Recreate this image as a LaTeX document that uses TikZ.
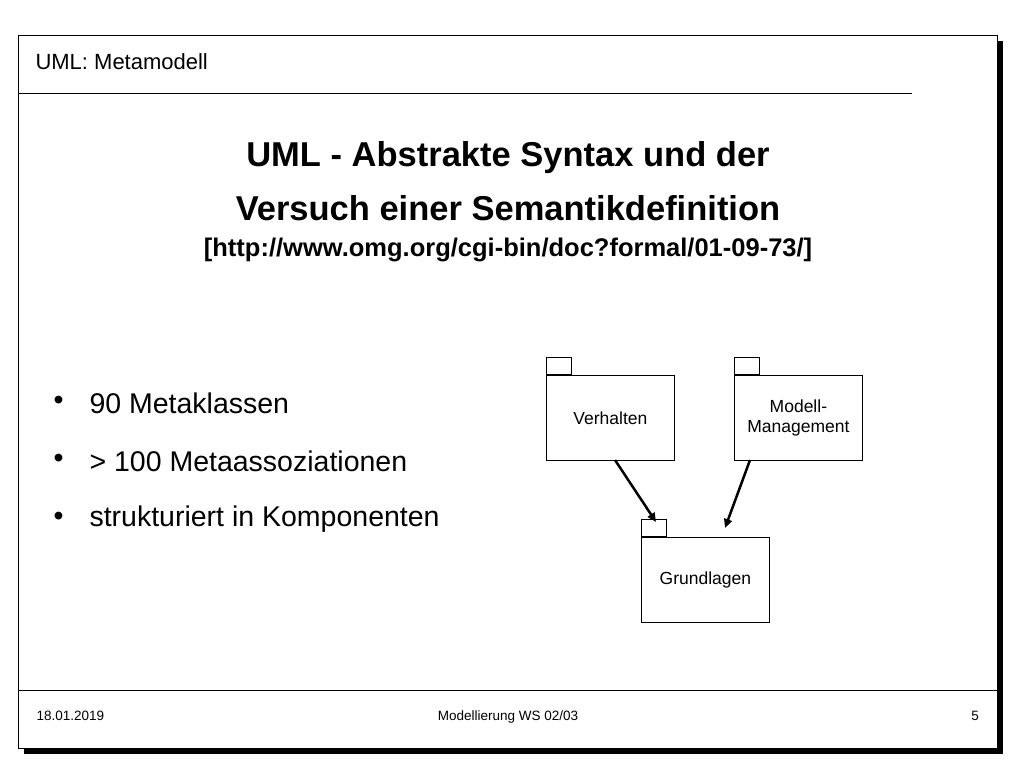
\documentclass[tikz,border=0pt]{standalone}
\usepackage{fontspec}
\setmainfont{Liberation Sans}
\usetikzlibrary{arrows.meta}
\tikzset{
    pkg/.style={draw,thick,fill=white,minimum width=128pt,minimum height=85pt,inner sep=0pt,align=center,font=\fontsize{17.5}{20}\selectfont},
    tab/.style={draw,thick,fill=white,minimum width=25pt,minimum height=17pt,inner sep=0pt},
    dep/.style={line width=2.5pt,-{Triangle[length=9pt,width=8pt]}},
    bullet/.style={anchor=west,font=\fontsize{28.5}{32}\selectfont},
    foot/.style={anchor=base,font=\fontsize{13.5}{16}\selectfont}
}

\begin{document}
\begin{tikzpicture}[x=1pt,y=-1pt]
        \useasboundingbox (0,0) rectangle (1024,768);
        % slide frame with shadow
        \fill (24,41) rectangle (1003,754);
        \draw [thick,fill=white] (18,35) rectangle (997,748);
        \draw [thick] (18,93) -- (912,93);
        \draw [thick] (18,690) -- (997,690);
        \node [anchor=west,font=\fontsize{22}{26}\selectfont] (head) at (32,62) {UML: Metamodell};
        % title
        \node [font=\bfseries\fontsize{34.5}{40}\selectfont] (t1) at (508,158) {UML - Abstrakte Syntax und der};
        \node [font=\bfseries\fontsize{34.5}{40}\selectfont] (t2) at (508,208) {Versuch einer Semantikdefinition};
        \node [font=\bfseries\fontsize{25.5}{30}\selectfont] (t3) at (508,250) {[http://www.omg.org/cgi-bin/doc?formal/01-09-73/]};
        % bullets
        \foreach \y/\txt in {403/90 Metaklassen,461/> 100 Metaassoziationen,519/strukturiert in Komponenten} {
            \node [bullet] at (50,\y) {•};
            \node [bullet] at (86,\y) {\txt};
        }
        % packages
        \node [tab,anchor=south west] (vtab) at (546,375) {};
        \node [pkg,anchor=north west] (verh) at (546,375) {Verhalten};
        \node [tab,anchor=south west] (mtab) at (734,375) {};
        \node [pkg,anchor=north west] (mgmt) at (734,375) {Modell-\\Management};
        \node [tab,anchor=south west] (gtab) at (641,537) {};
        \node [pkg,anchor=north west] (grund) at (641,537) {Grundlagen};
        \coordinate (va) at (615,460);
        \coordinate (ve) at (656,522);
        \coordinate (ma) at (750,460);
        \coordinate (me) at (725,528);
        \draw [dep] (va) -- (ve);
        \draw [dep] (ma) -- (me);
        % footer
        \node [foot,anchor=base west] (date) at (33,720) {18.01.2019};
        \node [foot] (course) at (508,720) {Modellierung WS 02/03};
        \node [foot] (page) at (975,720) {5};
    \end{tikzpicture}
\end{document}
